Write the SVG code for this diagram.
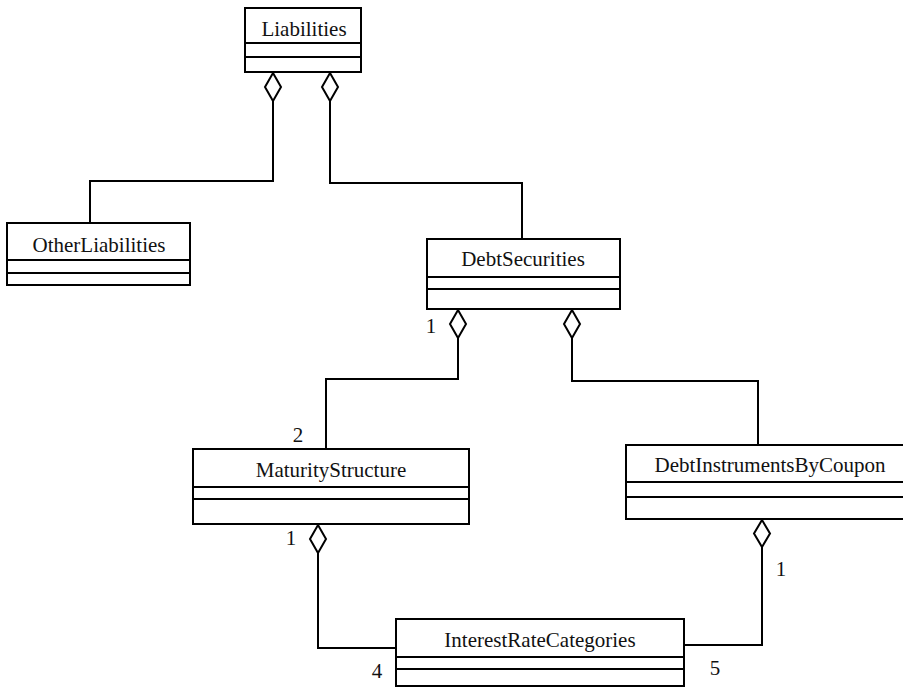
<svg xmlns="http://www.w3.org/2000/svg" width="903" height="689" viewBox="0 0 903 689">
<style>
.box{fill:#fff;stroke:#000;stroke-width:2}
.sep{stroke:#000;stroke-width:2}
text{font-family:'Liberation Serif','Times New Roman',Times,'DejaVu Serif',serif;font-size:21px;fill:#111;text-anchor:middle}
.conn{fill:none;stroke:#000;stroke-width:2}
.dia{fill:#fff;stroke:#000;stroke-width:2}
</style>
<rect width="903" height="689" fill="#fff"/>
<g id="connectors">
<path class="conn" d="M273,101 V181 H90 V223"/>
<path class="dia" d="M273,73 L281,87 L273,101 L265,87 Z"/>
<path class="conn" d="M330,101 V183 H522 V239"/>
<path class="dia" d="M330,73 L338,87 L330,101 L322,87 Z"/>
<path class="conn" d="M458,338 V379 H326 V449"/>
<path class="dia" d="M458,310 L466,324 L458,338 L450,324 Z"/>
<path class="conn" d="M572,338 V381 H758 V445"/>
<path class="dia" d="M572,310 L580,324 L572,338 L564,324 Z"/>
<path class="conn" d="M318,553 V648 H396"/>
<path class="dia" d="M318,525 L326,539 L318,553 L310,539 Z"/>
<path class="conn" d="M762,547 V645 H684"/>
<path class="dia" d="M762,520 L770,533.5 L762,547 L754,533.5 Z"/>
<text x="431" y="333">1</text>
<text x="298" y="442">2</text>
<text x="291" y="545">1</text>
<text x="377" y="678">4</text>
<text x="715" y="675">5</text>
<text x="781" y="576">1</text>
</g>
<g id="Liabilities">
<rect class="box" x="245" y="8" width="116" height="64"/>
<line class="sep" x1="245" y1="43" x2="361" y2="43"/>
<line class="sep" x1="245" y1="57" x2="361" y2="57"/>
<text x="304" y="36">Liabilities</text>
</g>
<g id="OtherLiabilities">
<rect class="box" x="7" y="223" width="183" height="62"/>
<line class="sep" x1="7" y1="260" x2="190" y2="260"/>
<line class="sep" x1="7" y1="273" x2="190" y2="273"/>
<text x="99" y="252">OtherLiabilities</text>
</g>
<g id="DebtSecurities">
<rect class="box" x="427" y="239" width="193" height="70"/>
<line class="sep" x1="427" y1="277" x2="620" y2="277"/>
<line class="sep" x1="427" y1="289" x2="620" y2="289"/>
<text x="523" y="266">DebtSecurities</text>
</g>
<g id="MaturityStructure">
<rect class="box" x="193" y="449" width="276" height="75"/>
<line class="sep" x1="193" y1="487" x2="469" y2="487"/>
<line class="sep" x1="193" y1="499" x2="469" y2="499"/>
<text x="331" y="477">MaturityStructure</text>
</g>
<g id="DebtInstrumentsByCoupon">
<rect class="box" x="626" y="445" width="282" height="74"/>
<line class="sep" x1="626" y1="482" x2="908" y2="482"/>
<line class="sep" x1="626" y1="497" x2="908" y2="497"/>
<text x="770" y="472">DebtInstrumentsByCoupon</text>
</g>
<g id="InterestRateCategories">
<rect class="box" x="396" y="619" width="288" height="67"/>
<line class="sep" x1="396" y1="657" x2="684" y2="657"/>
<line class="sep" x1="396" y1="669" x2="684" y2="669"/>
<text x="540" y="647">InterestRateCategories</text>
</g>
</svg>
